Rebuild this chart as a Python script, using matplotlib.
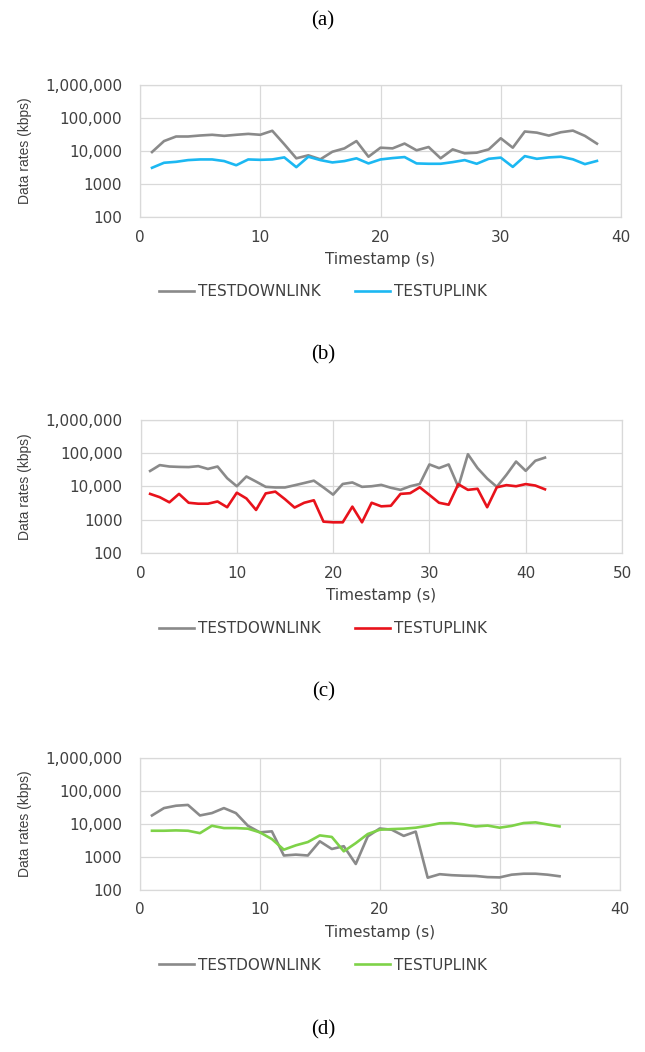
import matplotlib
matplotlib.use('Agg')
import matplotlib.pyplot as plt
from matplotlib.ticker import NullLocator

# ---- data ----
time_a = list(range(1, 39))
down_a = [9300, 20000, 27500, 27500, 29500, 31000, 28800, 31000, 33000, 31000,
          41000, 16000, 6000, 7400, 5600, 9500, 12000, 20000, 6700, 12600,
          12000, 16800, 10500, 13200, 6000, 11200, 8500, 8900, 11200, 24300,
          12600, 39000, 36000, 29300, 37000, 41500, 28700, 16700]
up_a = [3100, 4400, 4700, 5300, 5550, 5550, 4950, 3700, 5550, 5400,
        5550, 6400, 3240, 6700, 5300, 4500, 4950, 6000, 4200, 5550,
        6100, 6550, 4200, 4100, 4100, 4600, 5300, 4100, 5800, 6300,
        3300, 7000, 5800, 6400, 6700, 5600, 4000, 5000]

time_b = list(range(1, 43))
down_b = [28700, 43000, 39000, 38000, 37500, 40000, 33000, 39000, 17400, 10000,
          19600, 13800, 9600, 9200, 9200, 10700, 12500, 14700, 9200, 5600,
          11700, 13000, 9600, 10000, 11000, 9000, 7800, 10000, 11700, 45000,
          35000, 45000, 9600, 91000, 35000, 17000, 9600, 22000, 55000, 29000,
          58000, 72000]
up_b = [5900, 4700, 3300, 5900, 3200, 3000, 3000, 3500, 2350, 6400,
        4300, 1950, 6100, 6900, 4100, 2300, 3200, 3800, 870, 830,
        830, 2450, 830, 3200, 2500, 2600, 5900, 6200, 9300, 5500,
        3200, 2800, 11500, 7800, 8400, 2350, 9300, 10800, 10000, 11600,
        10500, 8100]

time_c = list(range(1, 36))
down_c = [17800, 29700, 35000, 37000, 17800, 21000, 29700, 21000, 8700, 5500,
          5900, 1100, 1170, 1100, 2950, 1730, 2100, 610, 4150, 7200,
          6600, 4300, 5800, 235, 300, 280, 270, 265, 245, 240,
          290, 310, 310, 290, 260]
up_c = [6150, 6150, 6300, 6150, 5200, 8700, 7400, 7400, 7100, 5500,
        3450, 1650, 2230, 2800, 4450, 4000, 1470, 2600, 4900, 6600,
        6900, 7100, 7600, 8700, 10300, 10500, 9600, 8300, 8800, 7600,
        8600, 10500, 11000, 9500, 8300]

y_ticks = [100, 1000, 10000, 100000, 1000000]
y_labels = ['100', '1000', '10,000', '100,000', '1,000,000']
captions = ['(a)', '(b)', '(c)', '(d)']
series_names = ['TESTDOWNLINK', 'TESTUPLINK']

# ---- figure ----
fig = plt.figure(figsize=(6.45, 10.52), dpi=100)
W, H = 645.0, 1052.0

down_color = '#8a8a8a'
up_colors = ['#1cb8f2', '#e8121b', '#7ed248']
grid_color = '#d9d9d9'
text_color = '#404040'

# axes boxes in pixels: left, top, right, bottom
boxes = [(140, 85, 621, 217), (140.5, 419.5, 622, 553), (140, 757.5, 619.5, 890)]
panels = [(time_a, down_a, up_a, 40), (time_b, down_b, up_b, 50), (time_c, down_c, up_c, 40)]

for i, (box, panel) in enumerate(zip(boxes, panels)):
    l, t, r, b = box
    ax = fig.add_axes([l / W, 1 - b / H, (r - l) / W, (b - t) / H])
    x, down, up, xmax = panel

    ax.plot(x, down, color=down_color, lw=1.9, solid_joinstyle='round', label=series_names[0])
    ax.plot(x, up, color=up_colors[i], lw=1.9, solid_joinstyle='round', label=series_names[1])

    ax.set_yscale('log')
    ax.set_ylim(100, 1000000)
    ax.set_xlim(0, xmax)
    ax.set_yticks(y_ticks)
    ax.set_yticklabels(y_labels)
    ax.yaxis.set_minor_locator(NullLocator())
    ax.set_xticks(range(0, xmax + 1, 10))

    ax.tick_params(length=0, labelsize=11, labelcolor=text_color)
    ax.tick_params(axis='y', pad=13)
    ax.tick_params(axis='x', pad=9)

    ax.grid(color=grid_color, lw=0.9)
    ax.set_axisbelow(True)
    for s in ax.spines.values():
        s.set_color(grid_color)
        s.set_linewidth(0.9)

    ax.set_xlabel('Timestamp (s)', fontsize=11, color=text_color, va='center')
    ax.xaxis.set_label_coords(0.5, -0.32)
    ax.set_ylabel('Data rates (kbps)', fontsize=10, color=text_color, va='center',
                  family=['Liberation Sans', 'DejaVu Sans'])
    ax.yaxis.set_label_coords(-0.239, 0.5)

    ax.legend(loc='center', bbox_to_anchor=((323 - l) / (r - l), -0.568), ncol=2,
              frameon=False, fontsize=11, handlelength=2.3, handletextpad=0.3,
              columnspacing=2.2, labelcolor=text_color)

# captions
cap_y = [21, 355, 692, 1030]
for c, y in zip(captions, cap_y):
    fig.text(0.501, 1 - y / H, c, ha='center', va='center', fontsize=15,
             family=['Liberation Serif', 'DejaVu Serif'], color='black')

fig.savefig('out.png', dpi=100)
